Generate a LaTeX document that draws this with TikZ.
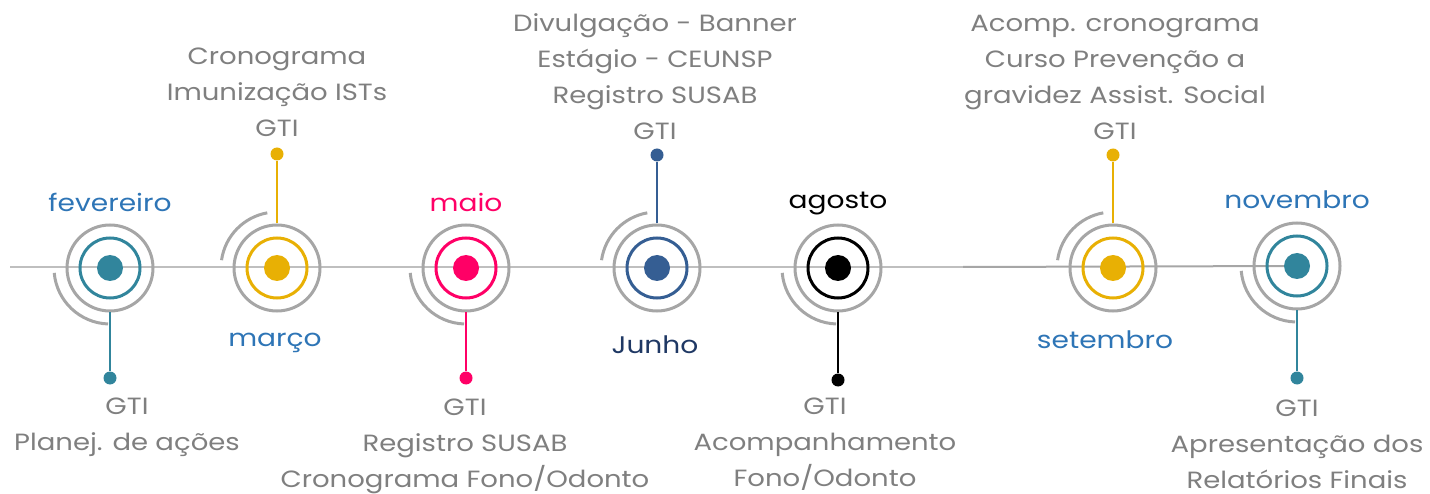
\documentclass[tikz,border=0pt]{standalone}
\usepackage{fontspec}
\setmainfont{Poppins}[FakeStretch=1.17]
\definecolor{cteal}{HTML}{31859C}
\definecolor{cyellow}{HTML}{E8B004}
\definecolor{cpink}{HTML}{FF0066}
\definecolor{cdblue}{HTML}{355E93}
\definecolor{cblack}{HTML}{000000}
\definecolor{ringgray}{HTML}{A6A6A6}
\definecolor{lightline}{HTML}{BFBFBF}
\definecolor{textgray}{HTML}{7F7F7F}
\definecolor{monthblue}{HTML}{2E75B6}
\definecolor{navy}{HTML}{1F3864}
\begin{document}
\begin{tikzpicture}[x=1pt,y=1pt,
  ring/.style={circle, draw=ringgray, line width=3pt, minimum size=86pt, inner sep=0pt},
  inring/.style={circle, draw=#1, line width=3pt, minimum size=60pt, inner sep=0pt},
  core/.style={circle, fill=#1, minimum size=26pt, inner sep=0pt},
  tipdot/.style={circle, fill=#1, minimum size=13pt, inner sep=0pt},
  txt/.style={text=textgray, font=\fontsize{23.5}{36}\selectfont, align=center, inner sep=0pt},
  month/.style={font=\fontsize{24}{30}\selectfont, inner sep=0pt},
  tline/.style={line width=2pt},
  arcline/.style={draw=ringgray, line width=3pt}]
\useasboundingbox (0,0) rectangle (1430,-494);
% timeline
\coordinate (L0) at (10,-267);
\coordinate (L1) at (963,-267);
\coordinate (c7) at (1297,-266);
\draw[tline, lightline] (L0) -- (L1);
\draw[tline, ringgray] (L1) -- (c7);
% markers
\foreach \i/\x/\y/\c/\s/\e/\ty in {
  1/110/-268/cteal/185/268/-378,
  2/277/-268/cyellow/100/172/-154,
  3/466/-268/cpink/185/268/-378,
  4/657/-268/cdblue/100/172/-155,
  5/838/-268/cblack/185/268/-380,
  6/1113/-268/cyellow/100/172/-155,
  7/1297/-266/cteal/185/268/-378}{
  \coordinate (c\i) at (\x,\y);
  \node[ring] (o\i) at (c\i) {};
  \node[inring=\c] (n\i) at (c\i) {};
  \node[core=\c] (d\i) at (c\i) {};
  \node[tipdot=\c] (t\i) at (\x,\ty) {};
  \draw[\c, line width=2pt] (o\i) -- (t\i);
  \draw[arcline] (c\i) ++(\s:56) arc[start angle=\s, end angle=\e, radius=56];
}
% month labels
\node[month, text=monthblue] (m1) at (110,-202) {fevereiro};
\node[month, text=monthblue] (m2) at (275,-343) {março};
\node[month, text=cpink] (m3) at (466,-202) {maio};
\node[month, text=navy] (m4) at (655,-345) {Junho};
\node[month, text=black] (m5) at (838,-204) {agosto};
\node[month, text=monthblue] (m6) at (1105,-340) {setembro};
\node[month, text=monthblue] (m7) at (1297,-200) {novembro};
% descriptions
\node[txt] (x1) at (127,-427) {GTI\\Planej. de ações};
\node[txt] (x2) at (277,-92) {Cronograma\\Imunização ISTs\\GTI};
\node[txt] (x3) at (465,-446) {GTI\\Registro SUSAB\\Cronograma Fono/Odonto};
\node[txt] (x4) at (655,-77) {Divulgação - Banner\\Estágio - CEUNSP\\Registro SUSAB\\GTI};
\node[txt] (x5) at (825,-444) {GTI\\Acompanhamento\\Fono/Odonto};
\node[txt] (x6) at (1115,-77) {Acomp. cronograma\\Curso Prevenção a\\gravidez Assist. Social\\GTI};
\node[txt] (x7) at (1297,-444) {GTI\\Apresentação dos\\Relatórios Finais};
\end{tikzpicture}
\end{document}
